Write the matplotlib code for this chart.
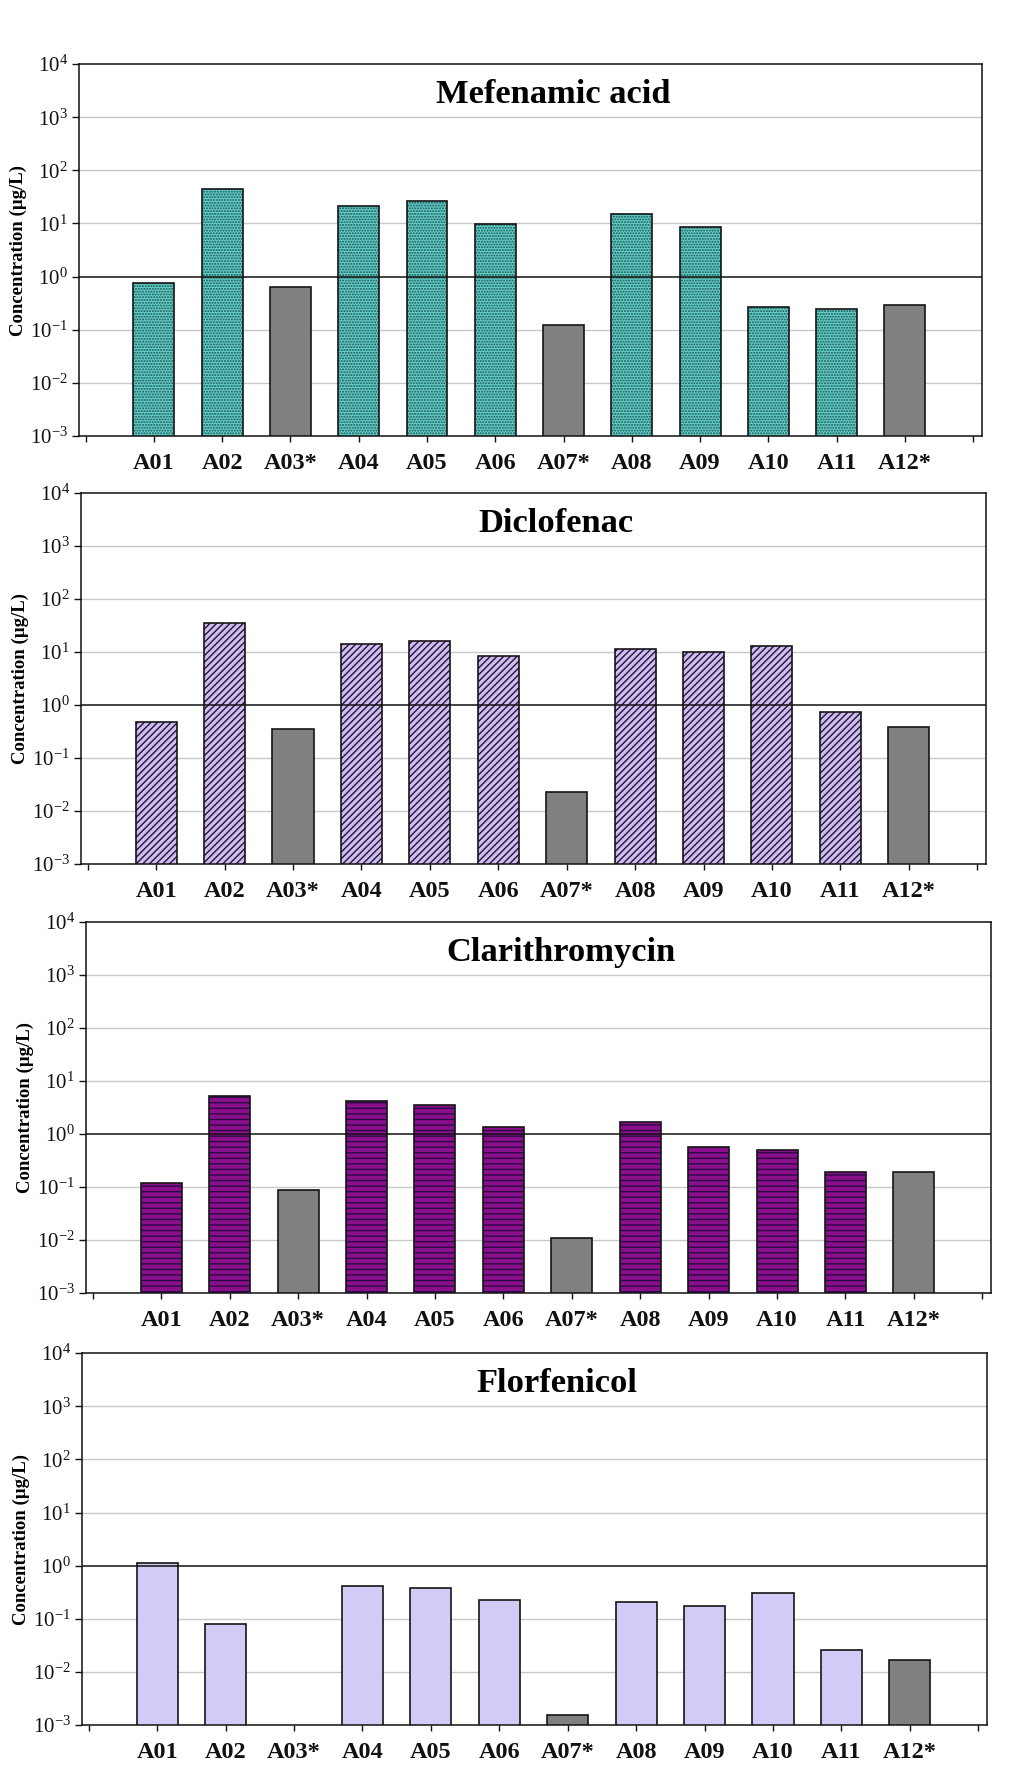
import numpy as np
import matplotlib
matplotlib.use("Agg")
import matplotlib.pyplot as plt

plt.rcParams['font.family'] = ['Liberation Serif', 'DejaVu Serif']
plt.rcParams['mathtext.fontset'] = 'custom'
plt.rcParams['mathtext.rm'] = 'Liberation Serif'
plt.rcParams['mathtext.it'] = 'Liberation Serif:italic'
plt.rcParams['mathtext.bf'] = 'Liberation Serif:bold'

sites = ["A01", "A02", "A03*", "A04", "A05", "A06", "A07*", "A08", "A09", "A10", "A11", "A12*"]
gray_sites = ["A03*", "A07*", "A12*"]

mefenamic = [0.75, 44, 0.65, 21, 26, 9.6, 0.125, 15, 8.5, 0.27, 0.245, 0.29]
diclofenac = [0.48, 35, 0.35, 14, 16, 8.3, 0.023, 11.2, 10, 13, 0.74, 0.39]
clarithromycin = [0.119, 5.2, 0.089, 4.2, 3.5, 1.36, 0.011, 1.68, 0.56, 0.51, 0.195, 0.19]
florfenicol = [1.14, 0.081, np.nan, 0.41, 0.375, 0.23, 0.00154, 0.21, 0.174, 0.30, 0.026, 0.017]

titles = ["Mefenamic acid", "Diclofenac", "Clarithromycin", "Florfenicol"]
series = [mefenamic, diclofenac, clarithromycin, florfenicol]
face_colors = ["#62D2CA", "#D2BAF6", "#8A0F8A", "#D1CCF7"]
hatches = ["......", "/////", "---", None]
hatch_colors = ["#1F4F4F", "#1A1A2A", "#2A0A45", "#111111"]
gray_color = "#808080"

# axes rectangles in figure fraction [left, bottom, width, height]
rects = [
    [0.077, 0.7531, 0.882, 0.2106],
    [0.079, 0.5108, 0.884, 0.2101],
    [0.084, 0.2678, 0.884, 0.2101],
    [0.080, 0.0232, 0.884, 0.2106],
]

fig = plt.figure(figsize=(10.24, 17.66), dpi=100)

decades = [1e-3, 1e-2, 1e-1, 1e0, 1e1, 1e2, 1e3, 1e4]
dec_labels = [r'$\mathrm{10^{-3}}$', r'$\mathrm{10^{-2}}$', r'$\mathrm{10^{-1}}$',
              r'$\mathrm{10^{0}}$', r'$\mathrm{10^{1}}$', r'$\mathrm{10^{2}}$',
              r'$\mathrm{10^{3}}$', r'$\mathrm{10^{4}}$']

for rect, title, vals, fc, hatch, hc in zip(rects, titles, series, face_colors, hatches, hatch_colors):
    ax = fig.add_axes(rect)
    ax.set_yscale('log')
    x = np.arange(1, len(sites) + 1)
    for xi, site, v in zip(x, sites, vals):
        if np.isnan(v):
            continue
        if site in gray_sites:
            ax.bar(xi, v, width=0.6, color=gray_color, edgecolor='#151515', linewidth=1.2, zorder=2)
        else:
            if hatch is None:
                ax.bar(xi, v, width=0.6, color=fc, edgecolor='#151515', linewidth=1.2, zorder=2)
            else:
                ax.bar(xi, v, width=0.6, color=fc, edgecolor=hc, linewidth=0, hatch=hatch, zorder=2)
                ax.bar(xi, v, width=0.6, fill=False, edgecolor='#151515', linewidth=1.2, zorder=3)
    ax.set_ylim(1e-3, 1e4)
    ax.set_xlim(-0.1, 13.13)
    for d in decades[1:-1]:
        if d == 1.0:
            continue
        ax.axhline(d, color='#C8C8C8', linewidth=1.0, zorder=1)
    ax.axhline(1.0, color='#111111', linewidth=1.1, zorder=4)
    ax.set_yticks(decades)
    ax.set_yticklabels(dec_labels)
    ax.yaxis.set_minor_locator(matplotlib.ticker.NullLocator())
    ax.set_xticks(np.arange(0, 14))
    ax.set_xticklabels([''] + sites + [''], fontsize=17.5, fontweight='bold')
    ax.tick_params(axis='x', direction='out', length=4, width=1.0, pad=8, colors='#111111')
    ax.tick_params(axis='y', direction='out', length=5, width=1.0, pad=3, labelsize=15, colors='#111111')
    for s in ax.spines.values():
        s.set_linewidth(1.1)
        s.set_color('#111111')
    ax.set_ylabel('Concentration (µg/L)', fontsize=13.5, fontweight='bold')
    ax.yaxis.set_label_coords(-0.057, 0.5)
    ax.text(0.525, 0.918, title, transform=ax.transAxes, ha='center', va='center',
            fontsize=24.8, fontweight='bold', zorder=5)

fig.savefig('out.png', dpi=100)
